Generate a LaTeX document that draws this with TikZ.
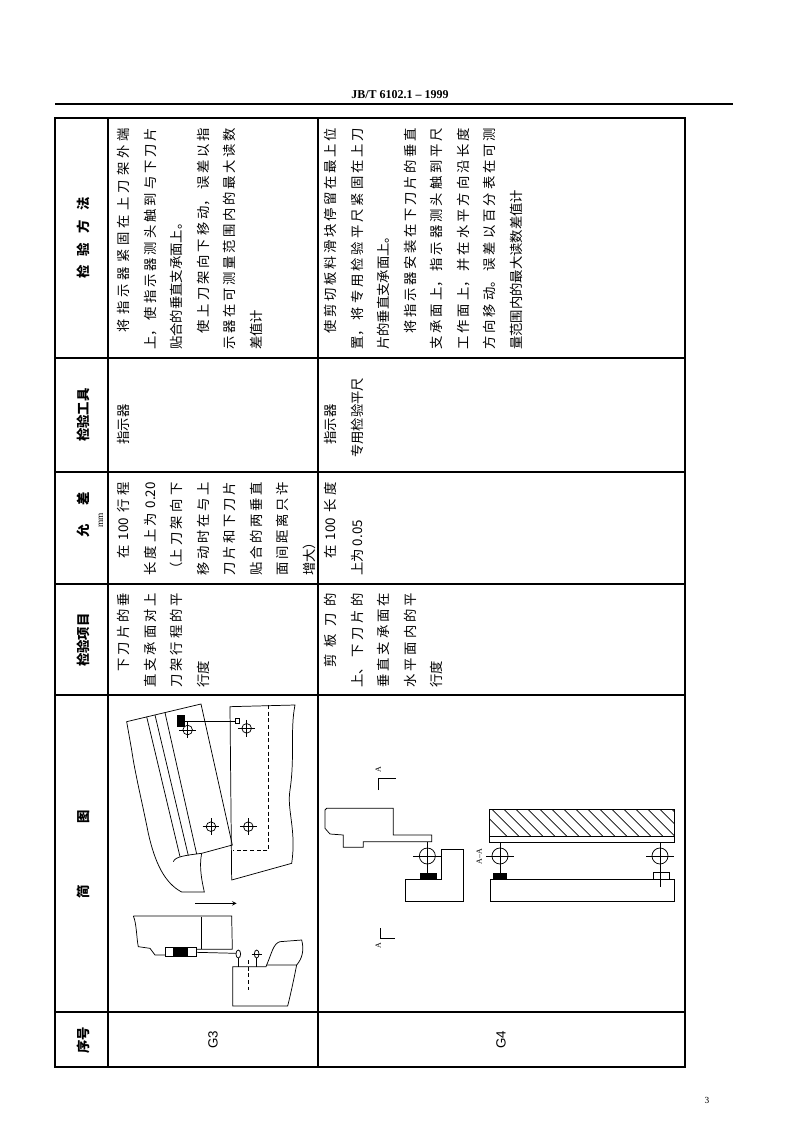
\documentclass[tikz,border=0pt]{standalone}
\usepackage{fontspec}
\setmainfont{Liberation Serif}
\newfontfamily\cjk{Noto Sans CJK SC}
\newfontfamily\lsans{Liberation Sans}
\XeTeXlinebreaklocale "zh"
\XeTeXlinebreakskip=0pt plus 2pt
\begin{document}
\begin{tikzpicture}[x=0.75pt,y=-0.75pt,
  cell/.style={rotate=90,anchor=north west,inner sep=0pt,align=justify,font=\cjk\fontsize{10}{19.9}\selectfont},
  head/.style={rotate=90,inner sep=0pt,font=\cjk\bfseries\fontsize{10}{12}\selectfont},
  frame/.style={line width=1.1pt},
  grid/.style={line width=0.8pt},
  sk/.style={line width=0.55pt},
  dl/.style={sk,dashed,dash pattern=on 3pt off 2pt},
  dial/.pic={\draw[sk,fill=white] (0,0) circle (8); \draw[sk] (-14,0)--(14,0) (0,-14)--(0,14);}]
\useasboundingbox (0,0) rectangle (800,1128);
% header
\node[font=\bfseries\fontsize{9}{10}\selectfont] (hd) at (400,95) {JB/T 6102.1 -- 1999};
\coordinate (hl1) at (55,104); \coordinate (hl2) at (733,104);
\draw[line width=0.9pt] (hl1)--(hl2);
\node[font=\fontsize{7}{8}\selectfont] (pg) at (707,1100) {3};
% table
\coordinate (TL) at (55,118); \coordinate (BR) at (685,1067);
\draw[frame] (TL) rectangle (BR);
\foreach \yy in {358,472,584,695,1012} \draw[grid] (55,\yy)--(685,\yy);
\draw[grid] (108,118)--(108,1067);
\draw[grid] (318,118)--(318,1067);
% headers
\node[head] (h1) at (83,238) {检\hspace{7pt}验\hspace{7pt}方\hspace{7pt}法};
\node[head] (h2) at (83,415) {检验工具};
\node[head] (h3) at (83,515) {允\hspace{14pt}差};
\node[rotate=90,inner sep=0pt,font=\fontsize{7}{8}\selectfont] (h3b) at (101,520) {mm};
\node[head] (h4) at (83,640) {检验项目};
\node[head] (h5) at (83,854) {简\hspace{46pt}图};
\node[head] (h6) at (83,1040) {序号};
\node[rotate=90,font=\lsans\fontsize{10}{12}\selectfont] (g3) at (213,1040) {G3};
\node[rotate=90,font=\lsans\fontsize{10}{12}\selectfont] (g4) at (501,1040) {G4};
% method
\node[cell,text width=166.5pt] (m3) at (117,350) {　将指示器紧固在上刀架外端\linebreak 上，使指示器测头触到与下刀片\linebreak 贴合的垂直支承面上。\par　使上刀架向下移动，误差以指\linebreak 示器在可测量范围内的最大读数\linebreak 差值计};
\node[cell,text width=166.5pt] (m4) at (324,350) {　使剪切板料滑块停留在最上位\linebreak 置，将专用检验平尺紧固在上刀\linebreak 片的垂直支承面上。\par　将指示器安装在下刀片的垂直\linebreak 支承面上，指示器测头触到平尺\linebreak 工作面上，并在水平方向沿长度\linebreak 方向移动。误差以百分表在可测\linebreak 量范围内的最大读数差值计};
% tools
\node[cell,text width=67pt,align=left] (t3) at (117,458) {　指示器};
\node[cell,text width=67pt,align=left] (t4) at (324,458) {　指示器\\专用检验平尺};
% tolerance
\node[cell,text width=70pt] (l3) at (117,576) {　在 100 行程\linebreak 长度上为 0.20\linebreak （上刀架向下\linebreak 移动时在与上\linebreak 刀片和下刀片\linebreak 贴合的两垂直\linebreak 面间距离只许\linebreak 增大）};
\node[cell,text width=70pt] (l4) at (324,576) {　在 100 长度\linebreak 上为 0.05};
% items
\node[cell,text width=71pt] (i3) at (117,688) {　下刀片的垂\linebreak 直支承面对上\linebreak 刀架行程的平\linebreak 行度};
\node[cell,text width=71pt] (i4) at (324,688) {　剪板刀的\linebreak 上、下刀片的\linebreak 垂直支承面在\linebreak 水平面内的平\linebreak 行度};
% ---------- G3 sketch
\begin{scope}[shift={(105,690)},scale=1/3]
 \draw[sk] (65,95)--(288,42)--(382,465)--(290,490) .. controls (282,530) and (290,570) .. (298,606)
   --(230,606) .. controls (180,580) and (150,520) .. (130,430) .. controls (110,330) and (90,250) .. (80,180) -- cycle;
 \draw[sk] (205,515) .. controls (210,500) and (240,496) .. (290,490);
 \draw[sk] (125,80)--(225,500) (150,75)--(250,497) (180,68)--(275,492);
 \fill (215,75) rectangle (240,112);
 \draw[sk] (240,93)--(392,93); \draw[sk] (392,85) rectangle (403,100);
 \pic[scale=0.6] at (248,120) {dial}; \pic[scale=0.6] at (318,410) {dial};
 \pic[scale=0.6] at (425,115) {dial}; \pic[scale=0.6] at (430,410) {dial};
 \draw[sk] (375,50)--(570,45) .. controls (555,120) and (570,200) .. (555,300) .. controls (545,360) and (575,420) .. (560,520)--(380,570)--cycle;
 \draw[dl] (490,45)--(490,482)--(385,482);
 \draw[sk,->,>=stealth] (270,640)--(395,640);
 \draw[sk] (85,678)--(380,678)--(382,778)--(275,778) (85,678) .. controls (95,700) and (95,750) .. (100,770)--(135,775)--(150,795)--(180,795);
 \draw[sk] (290,680)--(290,776);
 \draw[sk] (180,772) rectangle (275,800); \fill (205,775) rectangle (250,797);
 \draw[sk] (275,787)--(395,790);
 \draw[sk,fill=white] (400,792) ellipse (7 and 12); \draw[sk] (400,804)--(400,830);
 \draw[sk,fill=white] (455,792) ellipse (7 and 12); \draw[sk] (455,804)--(455,830) (440,792)--(470,792);
 \draw[sk] (383,830)--(383,948)--(548,948) .. controls (560,900) and (570,850) .. (575,825)--(485,825)--(483,830)--cycle;
 \draw[sk] (485,825) .. controls (500,790) and (505,760) .. (525,755)--(590,750) .. controls (598,780) and (592,805) .. (575,825);
 \draw[dl] (430,810)--(430,900);
\end{scope}
% ---------- G4 sketch
\begin{scope}[shift={(320,760)},scale=1/3]
 \draw[sk] (175,90)--(175,55)--(228,55);
 \draw[sk] (180,505)--(180,535)--(225,535);
 \node[rotate=90,font=\fontsize{6}{7}\selectfont] (sa1) at (175,28) {A};
 \node[rotate=90,font=\fontsize{6}{7}\selectfont] (sa2) at (175,558) {A};
 \node[rotate=90,font=\fontsize{6}{7}\selectfont] (sa3) at (478,290) {A--A};
 \draw[sk] (15,150)--(20,145)--(220,145)--(220,225)--(335,225)--(335,245)--(130,245)--(130,262)--(70,262)--(70,225)--(30,222)--(15,205)--cycle;
 \draw[sk] (322,245)--(322,340);
 \pic at (322,288) {dial};
 \fill (300,340) rectangle (350,358);
 \draw[sk] (255,358)--(255,425)--(430,425)--(430,268)--(365,268)--(365,358)--cycle;
 \begin{scope}
  \clip (508,148) rectangle (1062,228);
  \foreach \k in {0,...,17} \draw[sk] (480+\k*36,148)--(560+\k*36,228);
 \end{scope}
 \draw[sk] (508,148) rectangle (1062,228);
 \draw[sk] (508,228) rectangle (1062,246);
 \draw[sk] (512,358) rectangle (1062,425);
 \draw[sk] (540,246)--(540,340);
 \pic at (540,288) {dial};
 \fill (518,340) rectangle (562,356);
 \draw[sk] (1020,246)--(1020,270);
 \pic at (1020,288) {dial};
 \draw[sk] (1000,338) rectangle (1048,358);
 \draw[sk] (1020,305)--(1020,380);
\end{scope}
\end{tikzpicture}
\end{document}
